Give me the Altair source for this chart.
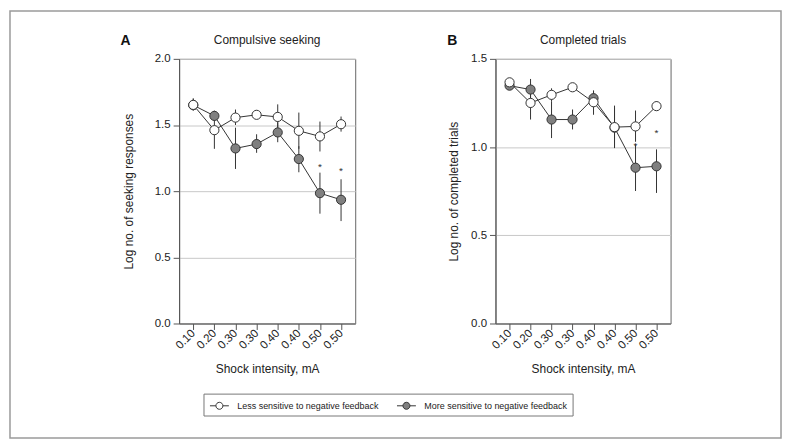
import altair as alt
import pandas as pd

# ---------------- data ----------------
sessions = [1, 2, 3, 4, 5, 6, 7, 8]
shock_labels = ["0.10", "0.20", "0.30", "0.30", "0.40", "0.40", "0.50", "0.50"]
groups = ["Less sensitive to negative feedback", "More sensitive to negative feedback"]

# Panel A: compulsive seeking (log no. of seeking responses)
seek_less = [1.652, 1.461, 1.556, 1.577, 1.561, 1.456, 1.414, 1.506]
seek_less_lo = [1.61, 1.32, 1.50, 1.55, 1.48, 1.32, 1.30, 1.45]
seek_less_hi = [1.70, 1.60, 1.617, 1.61, 1.656, 1.594, 1.526, 1.564]
seek_more = [1.65, 1.569, 1.323, 1.356, 1.444, 1.243, 0.985, 0.935]
seek_more_lo = [1.61, 1.53, 1.168, 1.29, 1.37, 1.143, 0.83, 0.774]
seek_more_hi = [1.70, 1.609, 1.48, 1.43, 1.52, 1.34, 1.14, 1.09]
seek_star_sessions = [7, 8]
seek_star_y = [1.20, 1.17]

# Panel B: completed trials (log no. of completed trials)
trial_less = [1.367, 1.250, 1.296, 1.339, 1.254, 1.113, 1.117, 1.232]
trial_less_lo = [1.35, 1.156, 1.26, 1.32, 1.183, 0.994, 1.03, 1.21]
trial_less_hi = [1.39, 1.33, 1.333, 1.36, 1.32, 1.235, 1.207, 1.26]
trial_more = [1.348, 1.326, 1.156, 1.156, 1.277, 1.11, 0.883, 0.891]
trial_more_lo = [1.33, 1.27, 1.051, 1.10, 1.23, 1.0, 0.751, 0.740]
trial_more_hi = [1.37, 1.386, 1.26, 1.213, 1.32, 1.22, 1.015, 0.987]
trial_star_sessions = [7, 8]
trial_star_y = [1.02, 1.09]

FONT = "Liberation Sans"
DARK = "#333333"


def make_df(less, less_lo, less_hi, more, more_lo, more_hi):
    rows = []
    # "More" rows first so that open circles are drawn on top
    for g, m, lo, hi in [(groups[1], more, more_lo, more_hi), (groups[0], less, less_lo, less_hi)]:
        for s, a, b, c in zip(sessions, m, lo, hi):
            rows.append({"session": s, "group": g, "mean": a, "lo": b, "hi": c})
    return pd.DataFrame(rows)


label_expr = "[" + ",".join("'%s'" % l for l in shock_labels) + "][datum.value - 1]"
one = pd.DataFrame({"k": [0]})


def panel(df, stars, ymax, yvals, ytitle, title_text, letter, letter_dx, ytitle_pad, width, with_legend):
    x = alt.X(
        "session:O",
        scale=alt.Scale(type="point", padding=0.67),
        axis=alt.Axis(
            labelExpr=label_expr, labelAngle=-45, labelAlign="right", labelBaseline="middle",
            labelPadding=2, title="Shock intensity, mA", titlePadding=13, grid=False,
        ),
    )
    y_scale = alt.Scale(domain=[0, ymax], nice=False, zero=True)
    y_axis = alt.Axis(values=yvals, format=".1f", title=ytitle, titlePadding=ytitle_pad, grid=True)

    rules = alt.Chart(df).mark_rule(color=DARK, strokeWidth=1).encode(
        x=x, y=alt.Y("lo:Q", scale=y_scale, axis=y_axis), y2="hi:Q"
    )
    lines = alt.Chart(df).mark_line(color=DARK, strokeWidth=1).encode(
        x=x, y=alt.Y("mean:Q"), detail="group:N"
    )
    fill_kwargs = dict(scale=alt.Scale(domain=groups, range=["#ffffff", "#808080"]))
    if with_legend:
        fill_kwargs["legend"] = alt.Legend(
            title=None, orient="none", direction="horizontal", legendX=30.5, legendY=338.5,
            symbolType="M-1,0L-0.37,0M0.37,0L1,0M0.37,0A0.37,0.37,0,1,1,-0.37,0A0.37,0.37,0,1,1,0.37,0Z",
            symbolSize=361, symbolStrokeColor=DARK, symbolStrokeWidth=1,
            labelFont=FONT, labelFontSize=9, labelColor="#222222", labelOffset=8,
            columnPadding=15, padding=0,
        )
    else:
        fill_kwargs["legend"] = None
    points = alt.Chart(df).mark_point(
        shape="circle", filled=True, size=85, opacity=1, stroke=DARK, strokeWidth=1
    ).encode(
        x=x, y=alt.Y("mean:Q"), fill=alt.Fill("group:N", **fill_kwargs)
    )
    star_marks = alt.Chart(stars).mark_text(
        text="*", fontSize=10, font=FONT, color=DARK, baseline="middle", dy=2
    ).encode(x=x, y=alt.Y("y:Q"))

    title_mark = alt.Chart(one).mark_text(
        text=title_text, font=FONT, fontSize=12, color="#222222", align="center", baseline="alphabetic"
    ).encode(x=alt.value(width / 2), y=alt.value(-15))
    letter_mark = alt.Chart(one).mark_text(
        text=letter, font=FONT, fontSize=14, fontWeight="bold", color="#111111",
        align="center", baseline="alphabetic"
    ).encode(x=alt.value(letter_dx), y=alt.value(-14))

    layers = [rules, lines, points, star_marks, title_mark, letter_mark]
    if with_legend:
        outer = alt.Chart(one).mark_rect(
            fillOpacity=0, stroke="#9a9a9a", strokeWidth=1.5
        ).encode(x=alt.value(-170), x2=alt.value(605), y=alt.value(-48), y2=alt.value(381))
        legbox = alt.Chart(one).mark_rect(
            fillOpacity=0, stroke="#777777", strokeWidth=1
        ).encode(x=alt.value(25), x2=alt.value(396), y=alt.value(337), y2=alt.value(359))
        layers = [outer, legbox] + layers
    return alt.layer(*layers).resolve_scale(fill="independent").properties(width=width, height=266)


seek_df = make_df(seek_less, seek_less_lo, seek_less_hi, seek_more, seek_more_lo, seek_more_hi)
trial_df = make_df(trial_less, trial_less_lo, trial_less_hi, trial_more, trial_more_lo, trial_more_hi)
seek_stars = pd.DataFrame({"session": seek_star_sessions, "y": seek_star_y})
trial_stars = pd.DataFrame({"session": trial_star_sessions, "y": trial_star_y})

panel_a = panel(seek_df, seek_stars, 2.0, [0, 0.5, 1.0, 1.5, 2.0],
                "Log no. of seeking responses", "Compulsive seeking", "A", -54, 19, 177, True)
panel_b = panel(trial_df, trial_stars, 1.5, [0, 0.5, 1.0, 1.5],
                "Log no. of completed trials", "Completed trials", "B", -43.5, 10, 176, False)

chart = alt.hconcat(panel_a, panel_b, spacing=141, bounds="flush").resolve_scale(
    x="independent", y="independent", fill="independent"
).resolve_legend(fill="independent").properties(
    padding=0, background="white"
).configure(font=FONT).configure_view(
    stroke="#666666", strokeWidth=1
).configure_axis(
    labelFont=FONT, titleFont=FONT, labelFontSize=11.5, titleFontSize=12,
    titleFontWeight="normal", labelColor="#222222", titleColor="#222222",
    domainColor="#555555", tickColor="#555555", tickSize=6, labelPadding=3,
    gridColor="#c8c8c8", gridWidth=1,
)

chart.save("out.html", embed_options={"renderer": "svg", "actions": False})
